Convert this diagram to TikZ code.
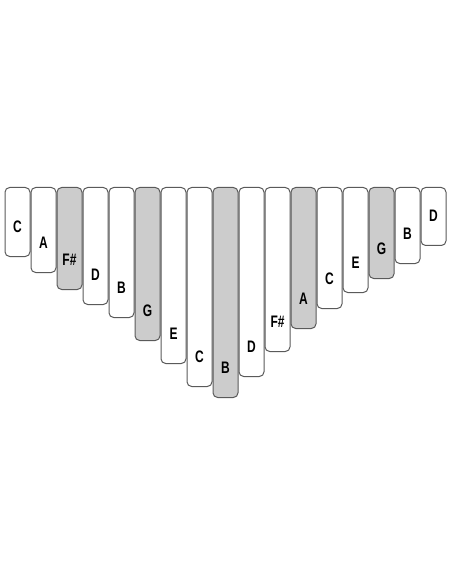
\documentclass[tikz,border=0pt]{standalone}
\usepackage{fontspec}
\setmainfont{Liberation Sans}[FakeStretch=0.72]
\usetikzlibrary{positioning}
\definecolor{tinegray}{HTML}{CCCCCC}
\definecolor{tineline}{HTML}{5A5A5A}
\tikzset{
  tine/.style={draw=tineline, line width=0.75pt, rounded corners=3.5pt,
    minimum width=25*0.75pt, inner sep=0pt, anchor=north},
  sharp/.style={tine, fill=tinegray},
  natural/.style={tine, fill=white},
  note/.style={font=\bfseries\fontsize{12.5}{13}\selectfont, inner sep=0pt}
}
\begin{document}
\begin{tikzpicture}[x=0.75pt,y=-0.75pt]
  \useasboundingbox (0,0) rectangle (452,584);
  % tines from left to right: note, bottom edge, style
  \foreach \name/\bot/\kind [count=\i] in {
      C/256/natural, A/272/natural, F\#/289/sharp, D/304/natural,
      B/317/natural, G/340/sharp, E/363/natural, C/386/natural,
      B/397/sharp, D/376/natural, F\#/351/natural, A/328/sharp,
      C/308/natural, E/292/natural, G/278/sharp, B/263/natural,
      D/245/natural}{
    \node[\kind, minimum height=(\bot-187)*0.75pt] (tine\i)
      at ({5+26*(\i-1)+12.5},187) {};
    \node[note] (note\i) at ({5+26*(\i-1)+12.5},\bot-29) {\name};
  }
\end{tikzpicture}
\end{document}
